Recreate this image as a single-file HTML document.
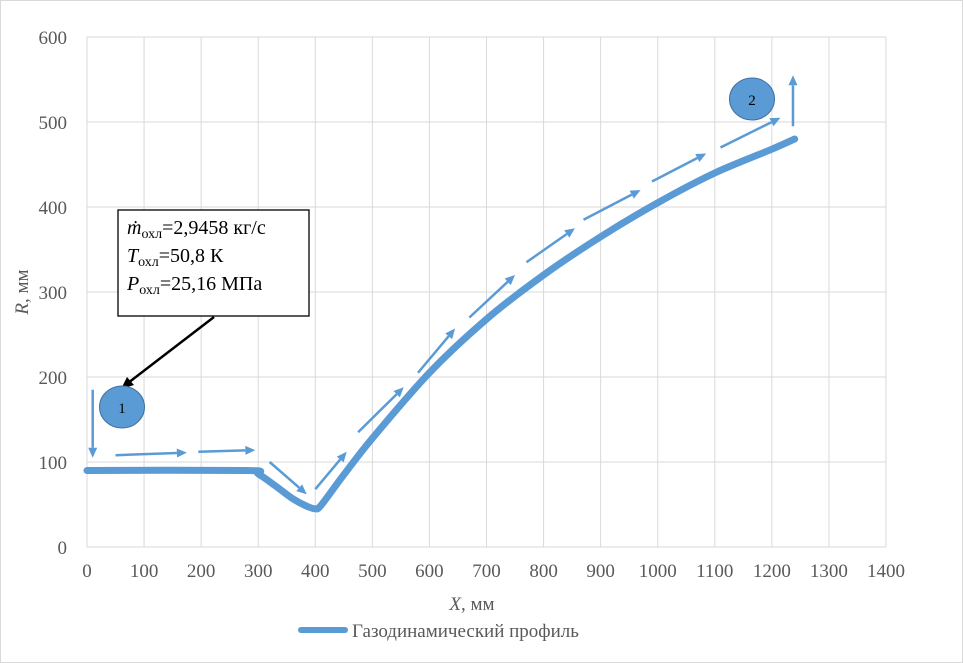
<!DOCTYPE html>
<html><head><meta charset="utf-8"><style>
body{margin:0;background:#fff}
svg{display:block;font-family:"Liberation Serif",serif}
</style></head><body>
<svg id="chart" width="963" height="663" viewBox="0 0 963 663" xmlns="http://www.w3.org/2000/svg">
<rect x="0.5" y="0.5" width="962" height="662" fill="#fff" stroke="#d9d9d9"/>
<g id="grid"></g>
<g id="ticks"></g>
<g id="arrows"></g>
<path id="profile" fill="none" stroke="#5b9bd5" stroke-width="7" stroke-linecap="round" stroke-linejoin="round"/>
<text x="472" y="610" font-size="19" text-anchor="middle" fill="#595959"><tspan font-style="italic">X</tspan>, мм</text>
<text transform="translate(28,292) rotate(-90)" font-size="19" text-anchor="middle" fill="#595959"><tspan font-style="italic">R</tspan>, мм</text>
<g>
<line x1="301" y1="630" x2="345" y2="630" stroke="#5b9bd5" stroke-width="6" stroke-linecap="round"/>
<text x="352" y="637" font-size="19" fill="#595959">Газодинамический профиль</text>
</g>
<g>
<rect x="118" y="210" width="191" height="106" fill="#fff" stroke="#000" stroke-width="1.3"/>
<text x="127" y="234" font-size="20" fill="#000"><tspan font-style="italic">ṁ</tspan><tspan font-size="14" dy="4">охл</tspan><tspan dy="-4">=2,9458 кг/с</tspan></text>
<text x="127" y="262" font-size="20" fill="#000"><tspan font-style="italic">T</tspan><tspan font-size="14" dy="4">охл</tspan><tspan dy="-4">=50,8 К</tspan></text>
<text x="127" y="290" font-size="20" fill="#000"><tspan font-style="italic">P</tspan><tspan font-size="14" dy="4">охл</tspan><tspan dy="-4">=25,16 МПа</tspan></text>
<line x1="214" y1="317" x2="128" y2="383" stroke="#000" stroke-width="2.5"/>
<polygon points="121,389 127,377 134,385" fill="#000"/>
</g>
<ellipse cx="122" cy="407" rx="22.5" ry="21" fill="#5b9bd5" stroke="#41719c"/>
<text x="122" y="413" font-size="15" text-anchor="middle" fill="#000">1</text>
<ellipse cx="752" cy="99" rx="22.5" ry="21" fill="#5b9bd5" stroke="#41719c"/>
<text x="752" y="105" font-size="15" text-anchor="middle" fill="#000">2</text>
</svg>
<script>
const xTicks=[0,100,200,300,400,500,600,700,800,900,1000,1100,1200,1300,1400];
const yTicks=[0,100,200,300,400,500,600];
const profileX=[0,280,300,330,360,385,400,410,450,500,600,700,800,900,1000,1100,1200,1240];
const profileR=[90,90,86,72,57,48,45,49,85,128,205,268,320,365,405,440,468,480];
const arrowX1=[10,50,195,320,400,475,580,670,770,870,990,1110,1237];
const arrowR1=[185,108,112,100,68,135,205,270,335,385,430,470,495];
const arrowX2=[10,175,295,385,455,555,645,750,855,970,1085,1215,1237];
const arrowR2=[105,111,114,62,112,188,257,320,375,420,463,505,555];
const NS='http://www.w3.org/2000/svg';
const L=87,R0=886,B=547,T=37;
const sx=v=>L+(v-0)/1400*(R0-L);
const sy=v=>B-(v-0)/600*(B-T);
const grid=document.getElementById('grid'),ticks=document.getElementById('ticks'),arrows=document.getElementById('arrows');
function mk(tag,attrs,parent){const e=document.createElementNS(NS,tag);for(const k in attrs)e.setAttribute(k,attrs[k]);parent.appendChild(e);return e;}
xTicks.forEach(v=>{
 const g=mk('line',{x1:sx(v),x2:sx(v),y1:T,y2:B,stroke:'#d9d9d9','stroke-width':1},grid);
 
 
 const t=mk('text',{x:sx(v),y:B+30,'font-size':19,'text-anchor':'middle',fill:'#595959'},ticks);
 t.textContent=v;
 
 
});
yTicks.forEach(v=>{
 const g=mk('line',{x1:L,x2:R0,y1:sy(v),y2:sy(v),stroke:'#d9d9d9','stroke-width':1},grid);
 
 
 const t=mk('text',{x:L-20,y:sy(v)+7,'font-size':19,'text-anchor':'end',fill:'#595959'},ticks);
 t.textContent=v;
 
 
});
const pts=profileX.map((x,i)=>[sx(x),sy(profileR[i])]);
let d='M'+pts[0][0].toFixed(1)+','+pts[0][1].toFixed(1);
for(let i=0;i<pts.length-1;i++){
 const p0=pts[Math.max(0,i-1)],p1=pts[i],p2=pts[i+1],p3=pts[Math.min(pts.length-1,i+2)];
 const t=0.15;
 const c1=[p1[0]+(p2[0]-p0[0])*t,p1[1]+(p2[1]-p0[1])*t];
 const c2=[p2[0]-(p3[0]-p1[0])*t,p2[1]-(p3[1]-p1[1])*t];
 d+=`C${c1[0].toFixed(1)},${c1[1].toFixed(1)} ${c2[0].toFixed(1)},${c2[1].toFixed(1)} ${p2[0].toFixed(1)},${p2[1].toFixed(1)}`;
}
document.getElementById('profile').setAttribute('d',d);
arrowX1.forEach((x,i)=>{
 const x1=sx(x),y1=sy(arrowR1[i]),x2=sx(arrowX2[i]),y2=sy(arrowR2[i]);
 const a=Math.atan2(y2-y1,x2-x1),h=10,w=4.5;
 const bx=x2-h*Math.cos(a),by=y2-h*Math.sin(a);
 const ln=mk('line',{x1:x1,y1:y1,x2:bx,y2:by,stroke:'#5b9bd5','stroke-width':2.5},arrows);
 
 
 const p=mk('polygon',{points:`${x2},${y2} ${bx-w*Math.sin(a)},${by+w*Math.cos(a)} ${bx+w*Math.sin(a)},${by-w*Math.cos(a)}`,fill:'#5b9bd5'},arrows);
 
 
});
</script>
</body></html>
